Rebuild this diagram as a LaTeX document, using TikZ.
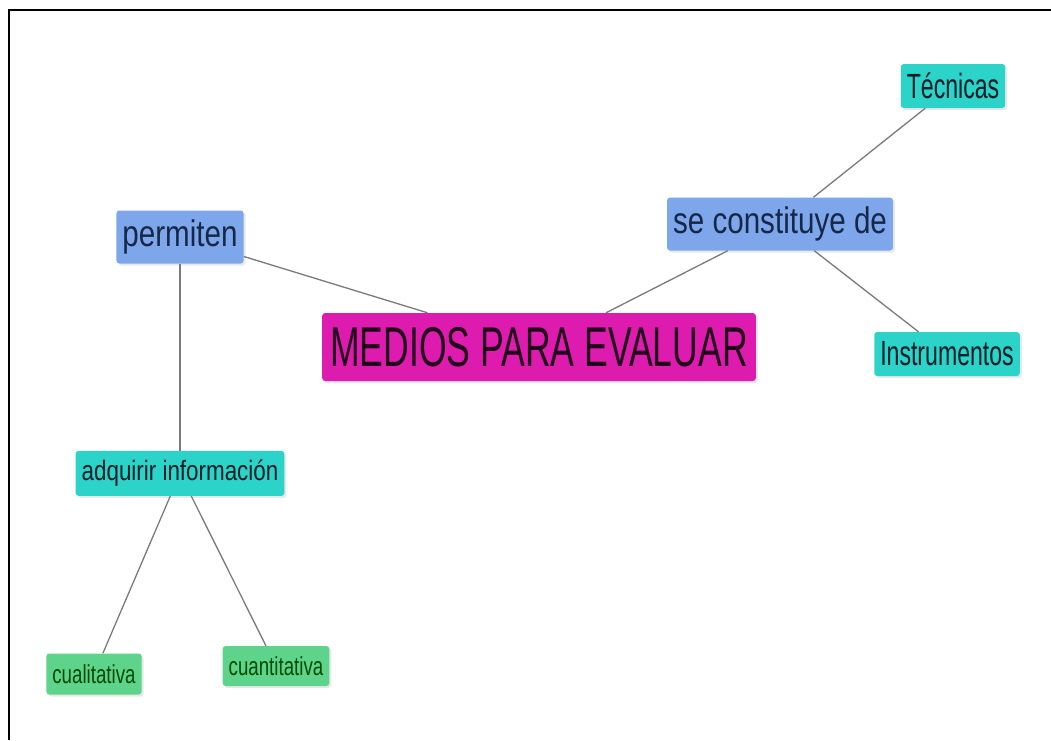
\documentclass[tikz,border=0pt]{standalone}
\usepackage{fontspec}
\setmainfont{Liberation Sans}
\newfontfamily\cnfont[FakeStretch=0.8]{Liberation Sans}
\newfontfamily\cnfontb[FakeStretch=0.66]{Liberation Sans}
\newfontfamily\cnfontc[FakeStretch=0.72]{Liberation Sans}
\newfontfamily\cnfontd[FakeStretch=0.635]{Liberation Sans}
\usetikzlibrary{positioning,shadows}
\definecolor{cblue}{HTML}{7EA6EA}
\definecolor{cturq}{HTML}{2BD3C9}
\definecolor{cgreen}{HTML}{5ED38C}
\definecolor{cmag}{HTML}{DE1BAF}
\definecolor{cline}{HTML}{7A7A7A}
\definecolor{ctxt}{HTML}{16284A}
\tikzstyle{cbox}=[rectangle, rounded corners=3pt, inner xsep=6pt, inner ysep=2pt,
 drop shadow={opacity=0.18, shadow xshift=2pt, shadow yshift=-2pt}]
\tikzstyle{bbox}=[cbox, fill=cblue, text=ctxt, minimum height=53pt,
 font=\cnfont\fontsize{37}{40}\selectfont]
\tikzstyle{tbox}=[cbox, fill=cturq, text=ctxt!80!cturq!40!black, minimum height=44pt,
 font=\cnfontb\fontsize{35}{38}\selectfont]
\tikzstyle{gbox}=[cbox, fill=cgreen, text=green!30!black, minimum height=41pt,
 font=\cnfontc\fontsize{26}{28}\selectfont]
\tikzstyle{mbox}=[cbox, fill=cmag, text=black!85!cmag, minimum height=68pt, inner xsep=8pt,
 font=\cnfontd\fontsize{56}{60}\selectfont]
\tikzstyle{pline}=[-, draw=cline, line width=1.3pt]

\begin{document}
\begin{tikzpicture}[x=1pt,y=-1pt,node distance=0pt]
\useasboundingbox (0,0) rectangle (1051,740);
\fill[white] (0,0) rectangle (1051,740);
\draw[line width=2pt] (9,740) -- (9,10) -- (1051,10);

\node (MEDIOS) [mbox] at (539,347) {MEDIOS PARA EVALUAR};
\node (PERM) [bbox] at (180,237) {permiten};
\node (SECON) [bbox] at (780,224) {se constituye de};
\node (TEC) [tbox] at (953,86) {Técnicas};
\node (INST) [tbox] at (947,354) {Instrumentos};
\node (ADQ) [tbox, below=187pt of PERM, minimum height=45pt,
 font=\cnfont\fontsize{28}{30}\selectfont] {adquirir información};
\node (CUAL) [gbox] at (94,674) {cualitativa};
\node (CUAN) [gbox, minimum height=40pt] at (276,666) {cuantitativa};

 \draw[pline] (PERM) -- (MEDIOS);
 \draw[pline] (MEDIOS) -- (SECON);
 \draw[pline] (SECON) -- (TEC);
 \draw[pline] (SECON) -- (INST);
 \draw[pline] (PERM) -- (ADQ);
 \draw[pline] (ADQ) -- (CUAL);
 \draw[pline] (ADQ) -- (CUAN);

\end{tikzpicture}
\end{document}
